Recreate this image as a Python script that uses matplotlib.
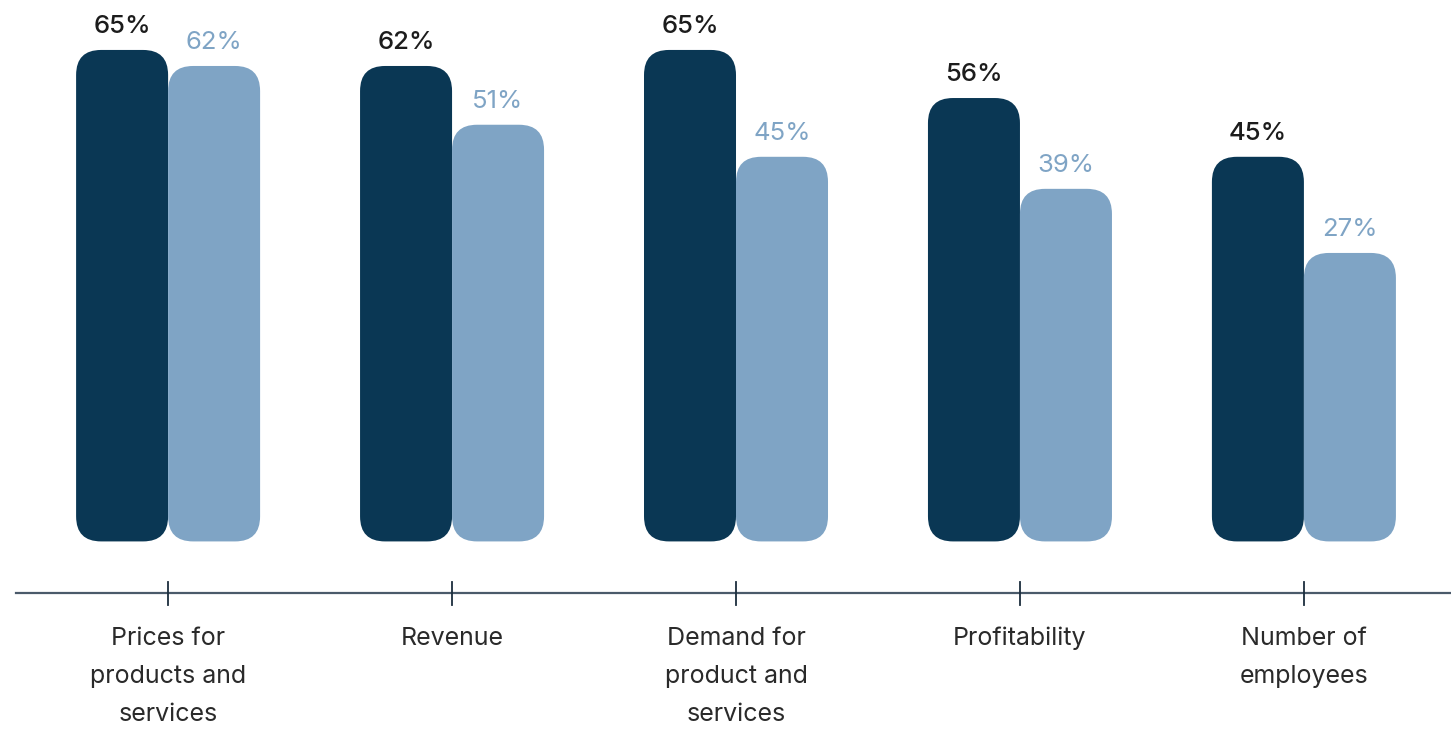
import matplotlib.pyplot as plt
from matplotlib.patches import FancyBboxPatch

plt.rcParams['font.family'] = ['Inter', 'DejaVu Sans']

categories = ['Prices for\nproducts and\nservices', 'Revenue',
              'Demand for\nproduct and\nservices', 'Profitability',
              'Number of\nemployees']
series_a = [65, 62, 65, 56, 45]
series_b = [62, 51, 45, 39, 27]

dark = '#0a3754'
light = '#7fa4c5'
base = -27      # bars hang below the zero line down to here
width = 0.324
radius = 0.088
aspect = 53.2   # y units per x unit, keeps corners circular

fig = plt.figure(figsize=(14.51, 7.30), dpi=100)
ax = fig.add_axes([0, 0, 1, 1])
ax.set_xlim(-0.592, 4.518)
ax.set_ylim(-62.3, 74.35)
ax.axis('off')

def rounded_bar(x, val, color):
    p = FancyBboxPatch((x, base), width, val - base,
                       boxstyle='round,pad=0,rounding_size=%f' % radius,
                       mutation_aspect=aspect, fc=color, ec='none')
    ax.add_patch(p)

for i in range(len(categories)):
    rounded_bar(i - width, series_a[i], dark)
    rounded_bar(i, series_b[i], light)
    ax.text(i - width / 2, series_a[i] + 4.4, '%d%%' % series_a[i],
            ha='center', va='center', fontsize=18.5, color='#1c1c1c',
            fontweight='medium')
    ax.text(i + width / 2, series_b[i] + 4.4, '%d%%' % series_b[i],
            ha='center', va='center', fontsize=18.5, color=light)
    # tick mark and category label
    ax.plot([i, i], [-34.6, -38.9], color='#1b2d3d', lw=1.3)
    ax.text(i, -43.0, categories[i], ha='center', va='top',
            fontsize=18, color='#2a2a2a', linespacing=1.85)

ax.plot([(16 - 168) / 284, 4.518], [-36.65, -36.65], color='#4a5a6a', lw=1.6,
        zorder=0)

fig.savefig('out.png', dpi=100)
